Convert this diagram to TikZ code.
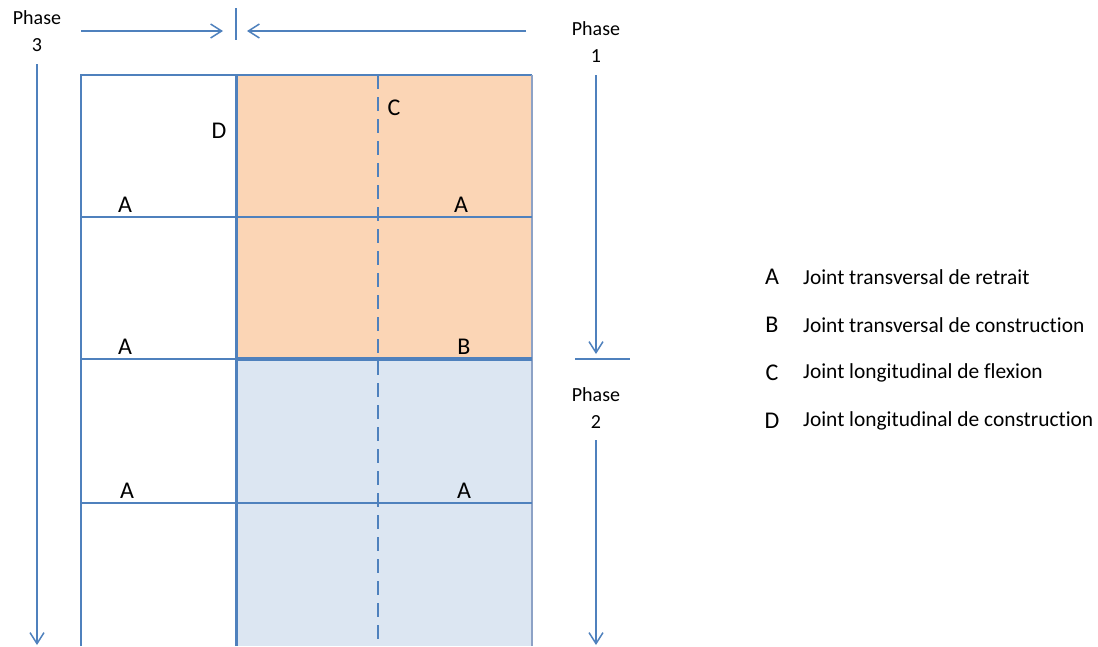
\documentclass[tikz,border=0pt]{standalone}
\usepackage{fontspec}
\setmainfont[Ligatures=NoCommon]{Carlito}
\usetikzlibrary{arrows.meta}
\definecolor{ln}{RGB}{79,129,189}
\definecolor{lngray}{RGB}{141,162,198}
\definecolor{orfill}{RGB}{251,213,181}
\definecolor{blfill}{RGB}{220,230,242}
\tikzset{
  jl/.style={draw=ln, line width=1.5pt},
  arr/.style={draw=ln, line width=1.5pt, -{Straight Barb[length=11pt,width=14pt,line width=1.5pt]}},
  lab/.style={font=\fontsize{24}{28}\selectfont, inner sep=0pt},
  leg/.style={font=\fontsize{21.4}{24}\selectfont, inner sep=0pt, anchor=west},
  phase/.style={font=\fontsize{20}{27}\selectfont, align=center, inner sep=0pt}
}
\begin{document}
\begin{tikzpicture}[x=1pt,y=-1pt]
\useasboundingbox (0,0) rectangle (1098,646);
% fills
\fill[orfill] (236,75) rectangle (532,359);
\fill[blfill] (236,359) rectangle (532,646);
% coordinates
\coordinate (tl) at (81,75);
\coordinate (bl) at (81,646);
\coordinate (tr) at (532,75);
\coordinate (br) at (532,646);
\coordinate (dt) at (236,75);
\coordinate (db) at (236,646);
\coordinate (ct) at (378,75);
\coordinate (cb) at (378,646);
\coordinate (a1l) at (81,217);
\coordinate (a1r) at (532,217);
\coordinate (bL) at (81,359);
\coordinate (bM) at (236,359);
\coordinate (bR) at (532,359);
\coordinate (a2l) at (81,503);
\coordinate (a2r) at (532,503);
% grid lines
\draw[jl] (bl) -- (tl) -- (tr);
\draw[draw=lngray, line width=1.5pt] (tr) -- (br);
\draw[jl] (a1l) -- (a1r);
\draw[jl] (a2l) -- (a2r);
\draw[jl] (bL) -- (bM);
\draw[draw=ln, line width=4pt] (bM) -- (bR);
\draw[draw=ln, line width=3pt] (dt) -- (db);
\draw[jl, dash pattern=on 14pt off 8pt] (ct) -- (cb);
% labels in the slab
\node[lab] (D) at (219,131) {D};
\node[lab] (C) at (394,108) {C};
\node[lab] (A1) at (125,205) {A};
\node[lab] (A2) at (461,205) {A};
\node[lab] (A3) at (125,347) {A};
\node[lab] (B1) at (464,347) {B};
\node[lab] (A4) at (127,491) {A};
\node[lab] (A5) at (464,491) {A};
% phases
\node[phase] (p3) at (37,31) {Phase\\3};
\node[phase] (p1) at (596,42) {Phase\\1};
\node[phase] (p2) at (596,408) {Phase\\2};
\coordinate (p3s) at (37,64);
\coordinate (p3e) at (37,645);
\coordinate (p1s) at (596,75);
\coordinate (p1e) at (596,354);
\coordinate (p2s) at (596,440);
\coordinate (p2e) at (596,645);
\coordinate (h1s) at (81,31);
\coordinate (h1e) at (223,31);
\coordinate (h2s) at (526,31);
\coordinate (h2e) at (247,31);
\coordinate (tk1) at (236,8);
\coordinate (tk2) at (236,40);
\coordinate (ph1) at (575,359);
\coordinate (ph2) at (630,359);
\draw[arr] (p3s) -- (p3e);
\draw[arr] (p1s) -- (p1e);
\draw[arr] (p2s) -- (p2e);
\draw[arr] (h1s) -- (h1e);
\draw[arr] (h2s) -- (h2e);
\draw[jl] (tk1) -- (tk2);
\draw[jl] (ph1) -- (ph2);
% legend
\node[lab] (LA) at (772,277) {A};
\node[lab] (LB) at (772,325) {B};
\node[lab] (LC) at (772,373) {C};
\node[lab] (LD) at (772,421) {D};
\node[leg] (TA) at (803,277) {Joint transversal de retrait};
\node[leg] (TB) at (803,325) {Joint transversal de construction};
\node[leg] (TC) at (803,373) {Joint longitudinal de flexion};
\node[leg] (TD) at (803,421) {Joint longitudinal de construction};
\end{tikzpicture}
\end{document}
